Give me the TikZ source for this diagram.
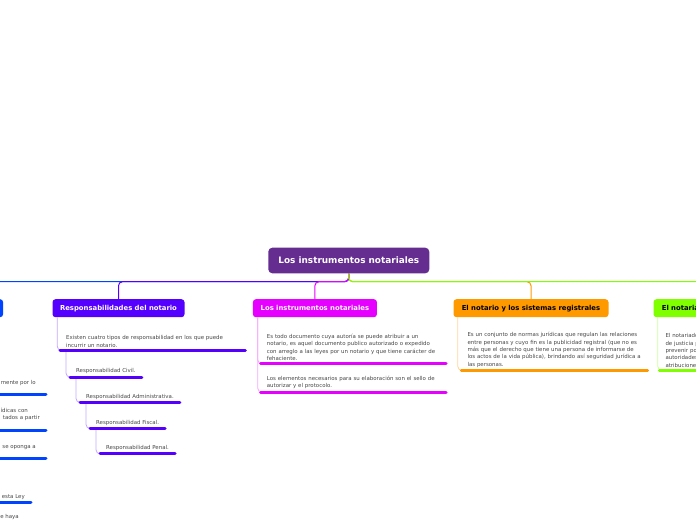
\documentclass[tikz,border=0pt]{standalone}
\usepackage{fontspec}
\setmainfont{DejaVu Sans}
\usepackage{xcolor}
\usepackage{tikz}
\usetikzlibrary{positioning, calc}
\definecolor{rootpurple}{RGB}{102,45,145}
\definecolor{notblue}{RGB}{0,68,255}
\definecolor{respviolet}{RGB}{85,0,255}
\definecolor{instmagenta}{RGB}{230,0,255}
\definecolor{regorange}{RGB}{255,153,0}
\definecolor{notlime}{RGB}{128,255,0}
\definecolor{leafgray}{RGB}{70,70,70}

\begin{document}
\begin{tikzpicture}[
        x=1pt, y=-1pt,
        rootblock/.style={rectangle, fill=rootpurple, text=white, rounded corners=4pt, minimum width=161pt, minimum height=25.6pt, inner sep=0pt, font=\fontsize{8.9}{10}\selectfont\bfseries},
        topicblock/.style={rectangle, rounded corners=3pt, minimum height=18pt, inner sep=0pt, font=\fontsize{6.85}{8}\selectfont\bfseries},
        leafblock/.style={rectangle, align=left, text=leafgray, inner xsep=6pt, inner ysep=3pt, font=\fontsize{5.45}{7.3}\selectfont},
        branch/.style={line width=1pt, rounded corners=4pt},
        twig/.style={line width=0.8pt, rounded corners=4pt},
        underline/.style={line width=3pt, line cap=round}
    ]
    \useasboundingbox (0,0) rectangle (696,520);
    \clip (0,0) rectangle (696,520);

    % Central topic
    \node[rootblock] (root) at (348.8,260.5) {Los instrumentos notariales};

    % Main topics
    \node[topicblock, fill=notblue, minimum width=130pt, anchor=north east] (notario) at (3.3,299) {};
    \node[topicblock, fill=respviolet, text=white, minimum width=132pt, anchor=north west] (resp) at (52.3,299) {Responsabilidades del notario};
    \node[topicblock, fill=instmagenta, text=white, minimum width=124pt, anchor=north west] (inst) at (252.7,299) {Los instrumentos notariales};
    \node[topicblock, fill=regorange, text=black, minimum width=155pt, anchor=north west] (reg) at (453.3,299) {El notario y los sistemas registrales};
    \node[topicblock, fill=notlime, text=black, text width=104pt, align=left, inner xsep=8.4pt, anchor=north west] (nota) at (653.3,299) {El notariado};

    % Branches
    \draw[branch, notblue] (root.south) -- ++(0,8.2) -| (notario.north);
    \draw[branch, respviolet] (root.south) -- ++(0,8.2) -| (resp.north);
    \draw[branch, instmagenta] (root.south) -- ++(0,8.2) -| (inst.north);
    \draw[branch, regorange] (root.south) -- ++(0,8.2) -| (reg.north);
    \draw[branch, notlime] (root.south) -- ++(0,8.2) -| (nota.north);

    % Responsabilidades del notario
    \node[leafblock, text width=173pt, below=33pt of resp.south west, anchor=south west, xshift=7.7pt] (rexist) {Existen cuatro tipos de responsabilidad en los que puede\\incurrir un notario.};
    \node[leafblock, below=26.7pt of rexist.south west, anchor=south west, xshift=10pt] (rcivil) {Responsabilidad Civil.};
    \node[leafblock, below=25.3pt of rcivil.south west, anchor=south west, xshift=10pt] (radmin) {Responsabilidad Administrativa.};
    \node[leafblock, below=26pt of radmin.south west, anchor=south west, xshift=10pt] (rfiscal) {Responsabilidad Fiscal.};
    \node[leafblock, below=25.4pt of rfiscal.south west, anchor=south west, xshift=10pt] (rpenal) {Responsabilidad Penal.};

    \draw[twig, respviolet!35] ($(resp.south west)+(5,0)$) |- (rexist.south west);
    \draw[twig, respviolet!35] ($(rexist.south west)+(6,0)$) |- (rcivil.south west);
    \draw[twig, respviolet!35] ($(rcivil.south west)+(6,0)$) |- (radmin.south west);
    \draw[twig, respviolet!35] ($(radmin.south west)+(6,0)$) |- (rfiscal.south west);
    \draw[twig, respviolet!35] ($(rfiscal.south west)+(6,0)$) |- (rpenal.south west);
    \foreach \leaf in {rexist, rcivil, radmin, rfiscal, rpenal}
        \draw[underline, respviolet] (\leaf.south west) -- (\leaf.south east);

    % Los instrumentos notariales
    \node[leafblock, text width=173pt, below=46.3pt of inst.south west, anchor=south west, xshift=8pt] (idoc) {Es todo documento cuya autoría se puede atribuir a un\\notario, es aquel documento publico autorizado o expedido\\con arreglo a las leyes por un notario y que tiene carácter de\\fehaciente.};
    \node[leafblock, text width=173pt, below=28.4pt of idoc.south west, anchor=south west] (ielem) {Los elementos necesarios para su elaboración son el sello de\\autorizar y el protocolo.};

    \draw[twig, instmagenta!35] ($(inst.south west)+(5,0)$) |- (idoc.south west);
    \draw[twig, instmagenta!35] ($(inst.south west)+(5,0)$) |- (ielem.south west);
    \foreach \leaf in {idoc, ielem}
        \draw[underline, instmagenta] (\leaf.south west) -- (\leaf.south east);

    % El notario y los sistemas registrales
    \node[leafblock, text width=174pt, below=53pt of reg.south west, anchor=south west, xshift=8pt] (rdef) {Es un conjunto de normas jurídicas que regulan las relaciones\\entre personas y cuyo fin es la publicidad registral (que no es\\más que el derecho que tiene una persona de informarse de\\los actos de la vida pública), brindando así seguridad jurídica a\\las personas.};

    \draw[twig, regorange!40] ($(reg.south west)+(4.5,0)$) |- (rdef.south west);
    \draw[underline, regorange] (rdef.south west) -- (rdef.south east);

    % El notariado
    \node[leafblock, text width=173pt, below=53pt of nota.south west, anchor=south west, xshift=6pt] (ndef) {El notariado es\\de justicia preventiva\\prevenir posibles\\autoridades\\atribuciones};

    \draw[twig, notlime!40] ($(nota.south west)+(4.5,0)$) |- (ndef.south west);
    \draw[underline, notlime] (ndef.south west) -- (ndef.south east);

    % Left topic (cut off)
    \node[leafblock, align=right, anchor=south east] (lfirst) at (46,394.7) {mente por lo\hspace*{4pt}\\\mbox{}};
    \node[leafblock, align=right, anchor=south east] (lsecond) at (46,430) {ídicas con\hspace*{12pt}\\tados a partir\\\mbox{}};
    \node[leafblock, align=right, anchor=south east] (lthird) at (46,458.7) {se oponga a\hspace*{4pt}\\\mbox{}};
    \node[leafblock, align=right, anchor=south east] (lfourth) at (31,502.7) {esta Ley};
    \node[leafblock, align=right, anchor=north east] (lfifth) at (25,511) {e haya\hspace*{0pt}\\\mbox{}};

    \foreach \leaf in {lfirst, lsecond, lthird, lfourth, lfifth}
        \draw[twig, notblue!35] ($(notario.south west)+(5,0)$) |- (\leaf.south west);
    \foreach \leaf in {lfirst, lsecond, lthird, lfourth, lfifth}
        \draw[underline, notblue] (\leaf.south west) -- (\leaf.south east);

\end{tikzpicture}
\end{document}
